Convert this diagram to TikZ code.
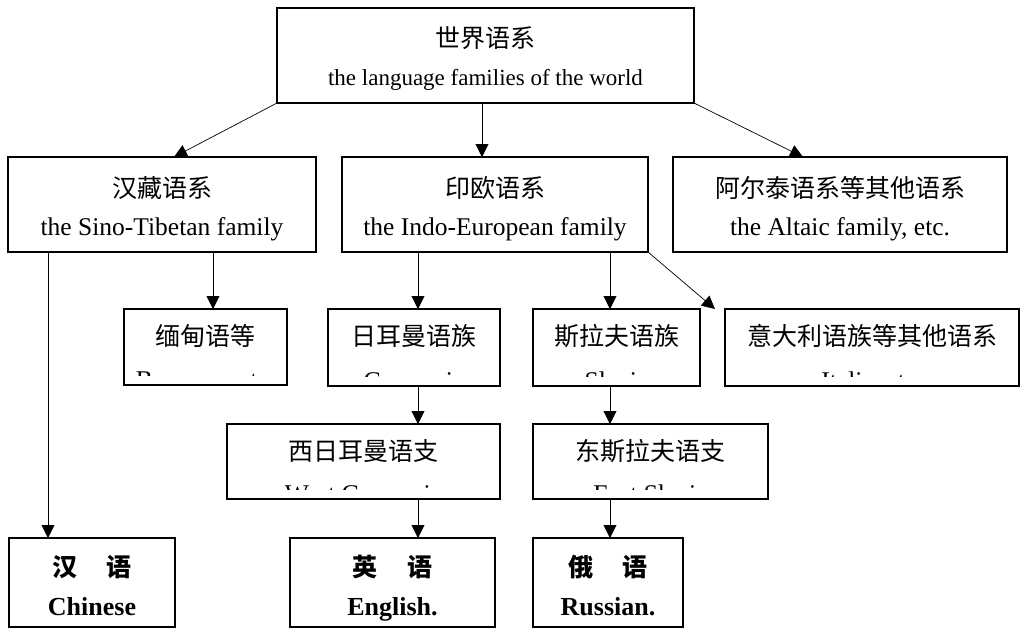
\documentclass[tikz,border=0pt]{standalone}
\usepackage{fontspec}
\setmainfont{Liberation Serif}
\newfontfamily\zh{Noto Sans CJK SC}
\usetikzlibrary{arrows.meta}
\tikzset{
  box/.style={draw=black, line width=1.1pt, inner sep=0pt, outer sep=0pt, anchor=north west},
  zhtext/.style={anchor=base, inner sep=0pt, font=\zh\fontsize{25}{28}\selectfont},
  entext/.style={anchor=base, inner sep=0pt, font=\fontsize{25.5}{28}\selectfont},
  toptext/.style={anchor=base, inner sep=0pt, font=\fontsize{23}{26}\selectfont},
  zhbold/.style={anchor=base, inner sep=0pt, font=\zh\bfseries\fontsize{25}{28}\selectfont},
  enbold/.style={anchor=base, inner sep=0pt, font=\bfseries\fontsize{26}{28}\selectfont},
  conn/.style={line width=0.9pt, -{Triangle[length=13pt,width=13pt]}},
  diag/.style={line width=0.7pt, -{Triangle[length=13pt,width=13pt]}},
}
\begin{document}
\begin{tikzpicture}[x=1pt,y=-1pt]
\fill[white] (0,0) rectangle (1021,635);
\useasboundingbox (0,0) rectangle (1021,635);
% boxes
\node[box, minimum width=417pt, minimum height=95pt] (top)  at (277,8) {};
\node[box, minimum width=308pt, minimum height=95pt] (sino) at (8,157) {};
\node[box, minimum width=306pt, minimum height=95pt] (indo) at (342,157) {};
\node[box, minimum width=334pt, minimum height=95pt] (alt)  at (673,157) {};
\node[box, minimum width=163pt, minimum height=76pt] (bur)  at (124,309) {};
\node[box, minimum width=172pt, minimum height=77pt] (ger)  at (328,309) {};
\node[box, minimum width=167pt, minimum height=77pt] (sla)  at (533,309) {};
\node[box, minimum width=294pt, minimum height=77pt] (ita)  at (725,309) {};
\node[box, minimum width=273pt, minimum height=75pt] (wger) at (227,424) {};
\node[box, minimum width=235pt, minimum height=75pt] (esla) at (533,424) {};
\node[box, minimum width=166pt, minimum height=89pt] (chn)  at (9,538) {};
\node[box, minimum width=205pt, minimum height=89pt] (eng)  at (290,538) {};
\node[box, minimum width=150pt, minimum height=89pt] (rus)  at (533,538) {};
% texts
\node[zhtext]  (top-zh)  at ([yshift=-39pt]top.north)  {世界语系};
\node[toptext] (top-en)  at ([yshift=-77pt]top.north)  {the language families of the world};
\node[zhtext] (sino-zh) at ([yshift=-40pt]sino.north) {汉藏语系};
\node[entext] (sino-en) at ([yshift=-78pt]sino.north) {the Sino-Tibetan family};
\node[zhtext] (indo-zh) at ([yshift=-40pt]indo.north) {印欧语系};
\node[entext] (indo-en) at ([yshift=-78pt]indo.north) {the Indo-European family};
\node[zhtext] (alt-zh)  at ([yshift=-40pt]alt.north)  {阿尔泰语系等其他语系};
\node[entext] (alt-en)  at ([yshift=-78pt]alt.north)  {the Altaic family, etc.};
\foreach \n/\z/\e in {bur/缅甸语等/{Burmese, etc.}, ger/日耳曼语族/Germanic, sla/斯拉夫语族/Slavic, ita/意大利语族等其他语系/{Italic, etc.}, wger/西日耳曼语支/{West Germanic}, esla/东斯拉夫语支/{East Slavic}}{
  \node[zhtext] (\n-zh) at ([yshift=-36pt]\n.north) {\z};
  \begin{scope}
    \clip (\n.north west) rectangle ([yshift=10pt]\n.south east);
    \node[entext] (\n-en) at ([yshift=-3.5pt]\n.south) {\e};
  \end{scope}
}
\node[zhbold] (chn-zh) at ([yshift=-38pt]chn.north) {汉\hspace{1.2em}语};
\node[enbold] (chn-en) at ([yshift=-77pt]chn.north) {Chinese};
\node[zhbold] (eng-zh) at ([yshift=-38pt]eng.north) {英\hspace{1.2em}语};
\node[enbold] (eng-en) at ([yshift=-77pt]eng.north) {English.};
\node[zhbold] (rus-zh) at ([yshift=-38pt]rus.north) {俄\hspace{1.2em}语};
\node[enbold] (rus-en) at ([yshift=-77pt]rus.north) {Russian.};
% connector coordinates
\coordinate (pI) at ([xshift=140pt]indo.north west);
\coordinate (pB) at ([xshift=89pt]bur.north west);
\coordinate (pC) at ([xshift=39pt]chn.north west);
\coordinate (pG) at ([xshift=90pt]ger.north west);
\coordinate (pS) at ([xshift=77pt]sla.north west);
% connectors
\draw[diag] (top.south west) -- ([xshift=166pt]sino.north west);
\draw[conn] (top.south -| pI) -- (pI);
\draw[diag] (top.south east) -- ([xshift=130pt]alt.north west);
\draw[conn] (sino.south -| pB) -- (pB);
\draw[conn] (sino.south -| pC) -- (pC);
\draw[conn] (indo.south -| pG) -- (pG);
\draw[conn] (indo.south -| pS) -- (pS);
\draw[diag] (indo.south east) -- ([xshift=-10pt]ita.north west);
\draw[conn] (ger.south -| pG) -- (wger.north -| pG);
\draw[conn] (sla.south -| pS) -- (esla.north -| pS);
\draw[conn] (wger.south -| pG) -- (eng.north -| pG);
\draw[conn] (esla.south -| pS) -- (rus.north -| pS);
\end{tikzpicture}
\end{document}
